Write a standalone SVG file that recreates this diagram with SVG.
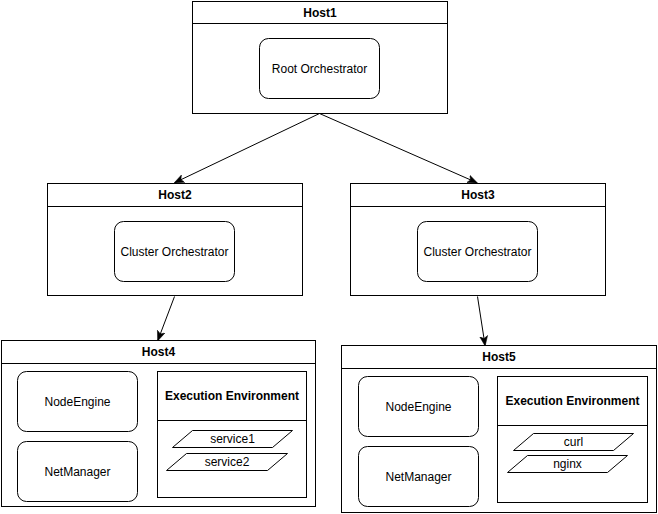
<svg xmlns="http://www.w3.org/2000/svg" width="658" height="514" viewBox="0 0 658 514">
<defs>
<style>
.host{fill:#fff;stroke:#000;stroke-width:1}
.sep{stroke:#000;stroke-width:1}
.box{fill:#fff;stroke:#000;stroke-width:1}
.par{fill:#fff;stroke:#000;stroke-width:1}
.t{font-family:"Liberation Sans",Arial,Helvetica,sans-serif;font-size:12px;fill:#000;text-anchor:middle;dominant-baseline:central}
.b{font-weight:bold}
.conn{stroke:#000;stroke-width:1;fill:none}
</style>
<marker id="arr" viewBox="0 0 10 10" refX="9" refY="5" markerWidth="10" markerHeight="10" markerUnits="userSpaceOnUse" orient="auto">
<path d="M0,1 L10,5 L0,9 L2.5,5 Z" fill="#000" stroke="#000" stroke-width="0.5"/>
</marker>
</defs>
<rect width="658" height="514" fill="#fff"/>

<g id="connectors">
<line class="conn" x1="319.5" y1="113.5" x2="175" y2="182.5" marker-end="url(#arr)"/>
<line class="conn" x1="319.5" y1="113.5" x2="476.5" y2="182.5" marker-end="url(#arr)"/>
<line class="conn" x1="174.5" y1="296.5" x2="158" y2="340" marker-end="url(#arr)"/>
<line class="conn" x1="477.5" y1="296.5" x2="485" y2="345" marker-end="url(#arr)"/>
</g>

<g id="host1">
<rect class="host" x="192.5" y="1.5" width="255" height="112"/>
<line class="sep" x1="192.5" y1="23.5" x2="447.5" y2="23.5"/>
<text class="t b" x="320" y="12.5">Host1</text>
</g>
<g id="root-orchestrator">
<rect class="box" x="259.5" y="38.5" width="120" height="60" rx="9"/>
<text class="t" x="319.5" y="68.5">Root Orchestrator</text>
</g>

<g id="host2">
<rect class="host" x="47.5" y="183.5" width="255" height="112"/>
<line class="sep" x1="47.5" y1="206.5" x2="302.5" y2="206.5"/>
<text class="t b" x="175" y="195">Host2</text>
</g>
<g id="cluster-orchestrator-2">
<rect class="box" x="114.5" y="221.5" width="120" height="60" rx="9"/>
<text class="t" x="174.5" y="251.5">Cluster Orchestrator</text>
</g>

<g id="host3">
<rect class="host" x="350.5" y="183.5" width="255" height="112"/>
<line class="sep" x1="350.5" y1="206.5" x2="605.5" y2="206.5"/>
<text class="t b" x="478" y="195">Host3</text>
</g>
<g id="cluster-orchestrator-3">
<rect class="box" x="417.5" y="221.5" width="120" height="60" rx="9"/>
<text class="t" x="477.5" y="251.5">Cluster Orchestrator</text>
</g>

<g id="host4">
<rect class="host" x="1.5" y="340.5" width="314" height="166"/>
<line class="sep" x1="1.5" y1="363.5" x2="315.5" y2="363.5"/>
<text class="t b" x="158.5" y="352">Host4</text>
</g>
<g id="nodeengine-4">
<rect class="box" x="17.5" y="371.5" width="120" height="60" rx="9"/>
<text class="t" x="77.5" y="401.5">NodeEngine</text>
</g>
<g id="netmanager-4">
<rect class="box" x="17.5" y="441.5" width="120" height="60" rx="9"/>
<text class="t" x="77.5" y="471.5">NetManager</text>
</g>
<g id="exec-env-4">
<rect class="box" x="157.5" y="371.5" width="149" height="126"/>
<line class="sep" x1="157.5" y1="420.5" x2="306.5" y2="420.5"/>
<text class="t b" x="232" y="396">Execution Environment</text>
</g>
<g id="service1">
<polygon class="par" points="192.5,430.5 292.5,430.5 272.5,447.5 172.5,447.5"/>
<text class="t" x="232.5" y="439">service1</text>
</g>
<g id="service2">
<polygon class="par" points="186.5,453.5 287.5,453.5 267.5,470.5 166.5,470.5"/>
<text class="t" x="227" y="462">service2</text>
</g>

<g id="host5">
<rect class="host" x="341.5" y="345.5" width="315" height="167"/>
<line class="sep" x1="341.5" y1="368.5" x2="656.5" y2="368.5"/>
<text class="t b" x="499" y="357">Host5</text>
</g>
<g id="nodeengine-5">
<rect class="box" x="358.5" y="376.5" width="120" height="60" rx="9"/>
<text class="t" x="418.5" y="406.5">NodeEngine</text>
</g>
<g id="netmanager-5">
<rect class="box" x="358.5" y="446.5" width="120" height="60" rx="9"/>
<text class="t" x="418.5" y="476.5">NetManager</text>
</g>
<g id="exec-env-5">
<rect class="box" x="497.5" y="376.5" width="150" height="126"/>
<line class="sep" x1="497.5" y1="425.5" x2="647.5" y2="425.5"/>
<text class="t b" x="572.5" y="401">Execution Environment</text>
</g>
<g id="curl">
<polygon class="par" points="533.5,433.5 633.5,433.5 613.5,450.5 513.5,450.5"/>
<text class="t" x="573.5" y="442">curl</text>
</g>
<g id="nginx">
<polygon class="par" points="527.5,455.5 627.5,455.5 607.5,472.5 507.5,472.5"/>
<text class="t" x="567.5" y="464">nginx</text>
</g>
</svg>
